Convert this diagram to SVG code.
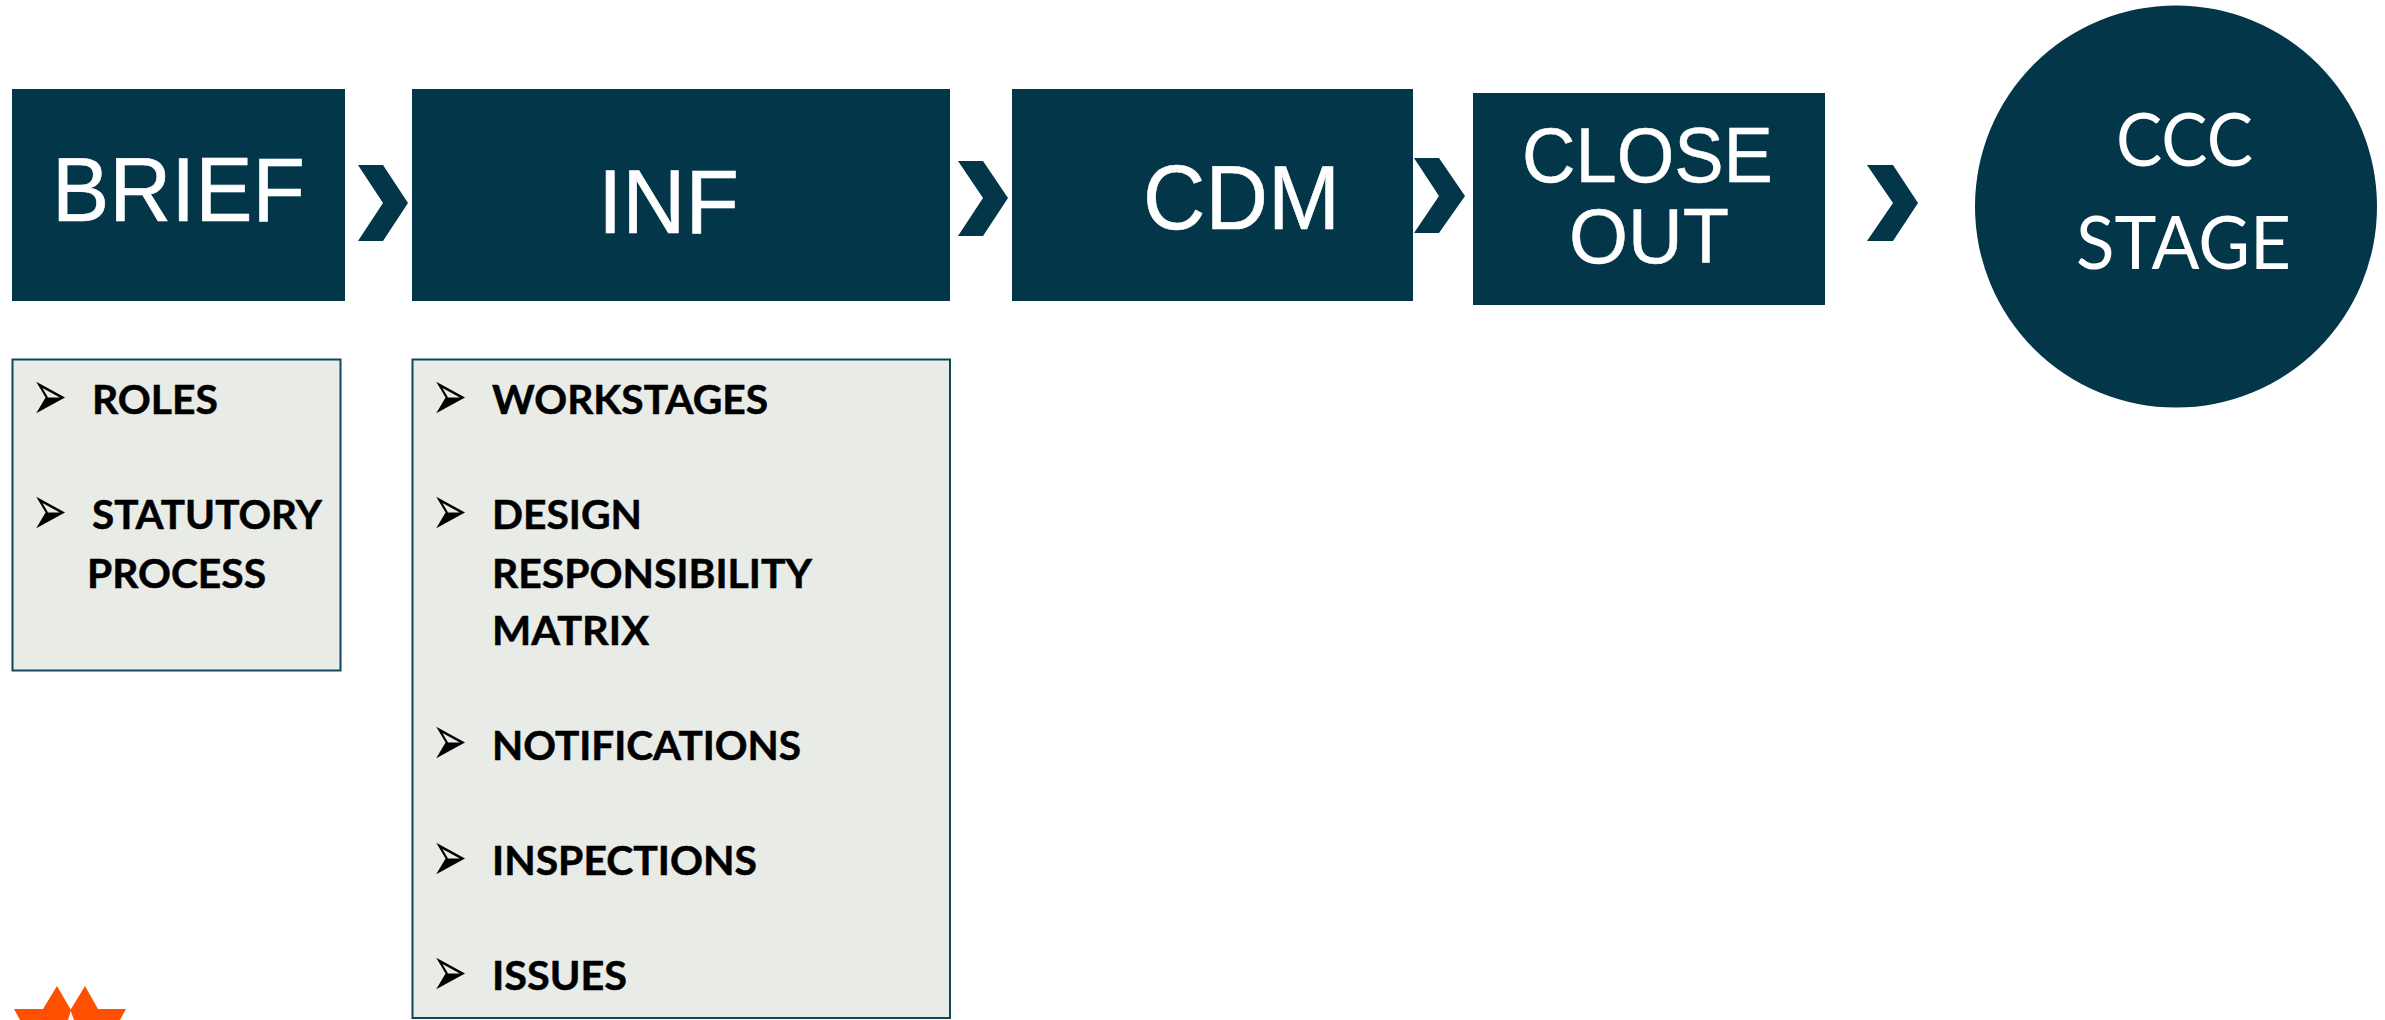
<svg xmlns="http://www.w3.org/2000/svg" width="2385" height="1020" viewBox="0 0 2385 1020">
<defs>
<style>
.n{fill:#023648}
.ar{font-family:"Liberation Sans",Arial,sans-serif;fill:#fff;stroke:#fff;stroke-width:.6;font-size:90px}
.ar2{font-family:"Liberation Sans",Arial,sans-serif;fill:#fff;stroke:#fff;stroke-width:.5;font-size:78px}
.cc{font-family:Lato,"Open Sans",sans-serif;fill:#fff;font-size:74px}
.box{fill:#e9ebe7;stroke:#0f4659;stroke-width:2}
.li{font-family:Lato,"Open Sans",sans-serif;font-weight:700;font-size:40px;fill:#000;stroke:#000;stroke-width:.5}
.bu{font-family:"DejaVu Sans",sans-serif;font-size:36px;fill:#000}
</style>
</defs>
<rect width="2385" height="1020" fill="#fff"/>
<g id="connectors" class="n">
<polygon points="358,165 383,165 408,203 383,241 358,241 383,203"/>
<polygon points="958,161 983,161 1008,198 983,236 958,236 983,198"/>
<polygon points="1414,158 1439,158 1465,196 1439,233 1414,233 1439,196"/>
<polygon points="1867,165 1893,165 1918,203 1893,241 1867,241 1893,203"/>
</g>
<g id="node-brief">
<rect class="n" x="12" y="89" width="333" height="212"/>
<text class="ar" x="52" y="221" textLength="253" lengthAdjust="spacingAndGlyphs">BRIEF</text>
</g>
<g id="node-inf">
<rect class="n" x="412" y="89" width="538" height="212"/>
<text class="ar" x="598" y="233" textLength="141" lengthAdjust="spacingAndGlyphs">INF</text>
</g>
<g id="node-cdm">
<rect class="n" x="1012" y="89" width="401" height="212"/>
<text class="ar" x="1143" y="229" textLength="197" lengthAdjust="spacingAndGlyphs">CDM</text>
</g>
<g id="node-closeout">
<rect class="n" x="1473" y="93" width="352" height="212"/>
<text class="ar2" x="1522" y="182" textLength="251" lengthAdjust="spacingAndGlyphs">CLOSE</text>
<text class="ar2" x="1569" y="263" textLength="160" lengthAdjust="spacingAndGlyphs">OUT</text>
</g>
<g id="node-ccc">
<circle class="n" cx="2176" cy="206.5" r="201"/>
<text class="cc" x="2116" y="166" textLength="137" lengthAdjust="spacingAndGlyphs">CCC</text>
<text class="cc" x="2076" y="269" textLength="215" lengthAdjust="spacingAndGlyphs">STAGE</text>
</g>
<g id="node-brief-list">
<rect class="box" x="12.5" y="359.5" width="328" height="311"/>
<text class="bu" transform="translate(31.6 420) scale(1.18 2)">➢</text>
<text class="li" x="92" y="414" textLength="126" lengthAdjust="spacingAndGlyphs">ROLES</text>
<text class="bu" transform="translate(31.6 535) scale(1.18 2)">➢</text>
<text class="li" x="92" y="529" textLength="230" lengthAdjust="spacingAndGlyphs">STATUTORY</text>
<text class="li" x="87" y="588" textLength="179" lengthAdjust="spacingAndGlyphs">PROCESS</text>
</g>
<g id="node-inf-list">
<rect class="box" x="412.5" y="359.5" width="537.5" height="658.5"/>
<text class="bu" transform="translate(431.6 420) scale(1.18 2)">➢</text>
<text class="li" x="492" y="414" textLength="276" lengthAdjust="spacingAndGlyphs">WORKSTAGES</text>
<text class="bu" transform="translate(431.6 535) scale(1.18 2)">➢</text>
<text class="li" x="492" y="529" textLength="150" lengthAdjust="spacingAndGlyphs">DESIGN</text>
<text class="li" x="492" y="588" textLength="320" lengthAdjust="spacingAndGlyphs">RESPONSIBILITY</text>
<text class="li" x="492" y="645" textLength="157" lengthAdjust="spacingAndGlyphs">MATRIX</text>
<text class="bu" transform="translate(431.6 765) scale(1.18 2)">➢</text>
<text class="li" x="492" y="760" textLength="309" lengthAdjust="spacingAndGlyphs">NOTIFICATIONS</text>
<text class="bu" transform="translate(431.6 881) scale(1.18 2)">➢</text>
<text class="li" x="492" y="875" textLength="265" lengthAdjust="spacingAndGlyphs">INSPECTIONS</text>
<text class="bu" transform="translate(431.6 996) scale(1.18 2)">➢</text>
<text class="li" x="492" y="990" textLength="135" lengthAdjust="spacingAndGlyphs">ISSUES</text>
</g>
<polygon id="logo" fill="#ff4f00" points="14,1009 43,1009 57,986 70.7,1009.5 85,986 98,1009 126,1009 120,1020 74,1020 70.7,1011 68,1020 20,1020"/>
</svg>
